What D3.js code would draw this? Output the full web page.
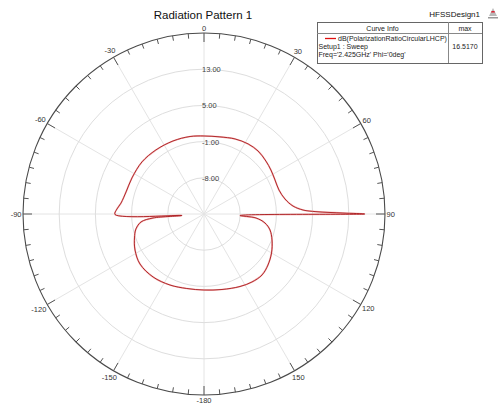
<!DOCTYPE html>
<html>
<head>
<meta charset="utf-8">
<script src="https://cdn.jsdelivr.net/npm/d3@7"></script>
<style>
  html, body { margin: 0; padding: 0; background: #fff; }
  svg { display: block; font-family: "Liberation Sans", Arial, sans-serif; }
</style>
</head>
<body>
<svg id="chart" width="501" height="405"></svg>
<script>
// ---- data ----
const thetaDeg = [-180, -167, -154.4, -141, -128, -117.6, -109, -102.4, -97.2, -94.5, -93.9,
  -90.3, -86.7, -82.5, -74.2, -63.4, -50, -36.9, -23, -10.2,
  0, 11.7, 22.5, 32.2, 40.6, 49.5, 56.7, 64.4, 72.3, 79.5, 84.9, 87.7, 88.8, 89.6, 90,
  92.4, 94.4, 98.4, 103.6, 110.9, 120, 128.6, 136.4, 144.8, 153.6, 166.6];
const gainDb = [-2.2, -2.1, -1.6, -1.1, -1.05, -1.8, -2.75, -3.6, -4.97, -7.7, -14.1,
  0.67, 0.26, -0.5, -1.1, -1.2, -1.1, -1.3, -1.47, -1.6,
  -1.76, -1.6, -1.05, -0.7, -0.66, -1.0, -1.3, -1.6, -1.6, -0.8, 0.75, 2.9, 5.75, 11.7, 16.517,
  -11.04, -7.47, -5.37, -3.99, -2.91, -1.77, -0.92, -0.40, -0.61, -1.11, -1.85];
const ringValues = [13, 5, -3, -11];
const ringLabels = ["13.00", "5.00", "-1.00", "-8.00"];
const angleLabels = [0, 30, 60, 90, 120, 150, -180, -150, -120, -90, -60, -30];
const radialDomain = [-19, 21];
const seriesName = "dB(PolarizationRatioCircularLHCP)";
const legendLines = ["Setup1 : Sweep", "Freq='2.425GHz' Phi='0deg'"];
const maxValue = "16.5170";

// ---- layout ----
const svg = d3.select("#chart");
const cx = 204, cy = 214, R = 181;
const rScale = d3.scaleLinear().domain(radialDomain).range([0, R]);
const rad = d => d * Math.PI / 180;
const g = svg.append("g").attr("transform", `translate(${cx},${cy})`);

// spokes
g.selectAll("line.spoke").data(d3.range(0, 360, 30)).join("line")
  .attr("x1", 0).attr("y1", 0)
  .attr("x2", d => R * Math.sin(rad(d))).attr("y2", d => -R * Math.cos(rad(d)))
  .attr("stroke", "#e4e4e4").attr("stroke-width", 1);

// rings
g.selectAll("circle.ring").data(ringValues).join("circle")
  .attr("r", d => rScale(d)).attr("fill", "none")
  .attr("stroke", "#dedede").attr("stroke-width", 1);

// outer circle
g.append("circle").attr("r", R).attr("fill", "none").attr("stroke", "#4a4a4a").attr("stroke-width", 1.1);

// ticks
g.selectAll("line.tick").data(d3.range(0, 360, 5)).join("line")
  .attr("x1", d => R * Math.sin(rad(d))).attr("y1", d => -R * Math.cos(rad(d)))
  .attr("x2", d => (R - (d % 30 === 0 ? 9 : 5)) * Math.sin(rad(d)))
  .attr("y2", d => -(R - (d % 30 === 0 ? 9 : 5)) * Math.cos(rad(d)))
  .attr("stroke", "#555").attr("stroke-width", 1);

// ring labels
g.selectAll("text.ringlab").data(ringValues).join("text")
  .attr("x", -2).attr("y", d => -rScale(d) + 1)
  .attr("dominant-baseline", "middle")
  .attr("font-size", 7.5).attr("fill", "#444")
  .text((d, i) => ringLabels[i]);

// angle labels
const lab = g.selectAll("text.anglab").data(angleLabels).join("text")
  .attr("font-size", 7.5).attr("fill", "#333")
  .attr("text-anchor", "middle").attr("dominant-baseline", "central")
  .text(d => d);
lab.each(function(d) {
  const bb = this.getBBox();
  const s = Math.sin(rad(d)), c = Math.cos(rad(d));
  const rr = R + 1.5 + Math.abs(s) * bb.width / 2 + Math.abs(c) * 3.5;
  d3.select(this).attr("x", rr * s).attr("y", -rr * c);
});

// curve
const pts = thetaDeg.map((t, i) => [t, gainDb[i]]);
const line = d3.lineRadial()
  .angle(d => rad(d[0]))
  .radius(d => rScale(d[1]))
  .curve(d3.curveCatmullRomClosed.alpha(0.5));
g.append("path").attr("d", line(pts))
  .attr("fill", "none").attr("stroke", "#f4b8b8").attr("stroke-width", 1.7)
  .attr("stroke-linejoin", "round");
g.append("path").attr("d", line(pts))
  .attr("fill", "none").attr("stroke", "#a8181c").attr("stroke-width", 0.9)
  .attr("stroke-linejoin", "round");

// title
svg.append("text").attr("x", 203).attr("y", 14.5)
  .attr("text-anchor", "middle").attr("dominant-baseline", "central")
  .attr("font-size", 11.5).attr("fill", "#111").text("Radiation Pattern 1");

svg.append("text").attr("x", 480).attr("y", 14.5)
  .attr("text-anchor", "end").attr("dominant-baseline", "central")
  .attr("font-size", 8).attr("fill", "#111").text("HFSSDesign1");

// logo
const logo = svg.append("g").attr("transform", "translate(489,8)");
logo.append("path").attr("d", "M4,0 L8,8 L0,8 Z").attr("fill", "#b9b9b9");
logo.append("path").attr("d", "M2.6,3 L5.4,3 L6,4.4 L2,4.4 Z").attr("fill", "#d23");
logo.append("rect").attr("x", -1).attr("y", 9).attr("width", 10).attr("height", 1.5).attr("fill", "#999");

// legend
const lg = svg.append("g");
const lx0 = 317, lx1 = 482, ly0 = 22, ly1 = 63, ldiv = 448, lhead = 33;
lg.append("rect").attr("x", lx0 + 0.5).attr("y", ly0 + 0.5).attr("width", lx1 - lx0).attr("height", ly1 - ly0)
  .attr("fill", "#fff").attr("stroke", "#666");
lg.append("line").attr("x1", lx0).attr("x2", lx1).attr("y1", lhead + 0.5).attr("y2", lhead + 0.5).attr("stroke", "#888");
lg.append("line").attr("x1", ldiv + 0.5).attr("x2", ldiv + 0.5).attr("y1", ly0).attr("y2", ly1).attr("stroke", "#888");
lg.append("text").attr("x", (lx0 + ldiv) / 2).attr("y", 28).attr("text-anchor", "middle")
  .attr("dominant-baseline", "central").attr("font-size", 7).attr("fill", "#222").text("Curve Info");
lg.append("text").attr("x", (ldiv + lx1) / 2).attr("y", 28).attr("text-anchor", "middle")
  .attr("dominant-baseline", "central").attr("font-size", 7).attr("fill", "#222").text("max");
lg.append("line").attr("x1", 325).attr("x2", 336).attr("y1", 38.5).attr("y2", 38.5)
  .attr("stroke", "#e01010").attr("stroke-width", 1.3);
lg.append("text").attr("x", 338).attr("y", 38.5).attr("dominant-baseline", "central")
  .attr("font-size", 7).attr("fill", "#222").text(seriesName);
legendLines.forEach((t, i) => {
  lg.append("text").attr("x", 318.5).attr("y", 46.5 + i * 8).attr("dominant-baseline", "central")
    .attr("font-size", 7).attr("fill", "#222").text(t);
});
lg.append("text").attr("x", (ldiv + lx1) / 2).attr("y", 46.5).attr("text-anchor", "middle")
  .attr("dominant-baseline", "central").attr("font-size", 7).attr("fill", "#222").text(maxValue);
</script>
</body>
</html>
